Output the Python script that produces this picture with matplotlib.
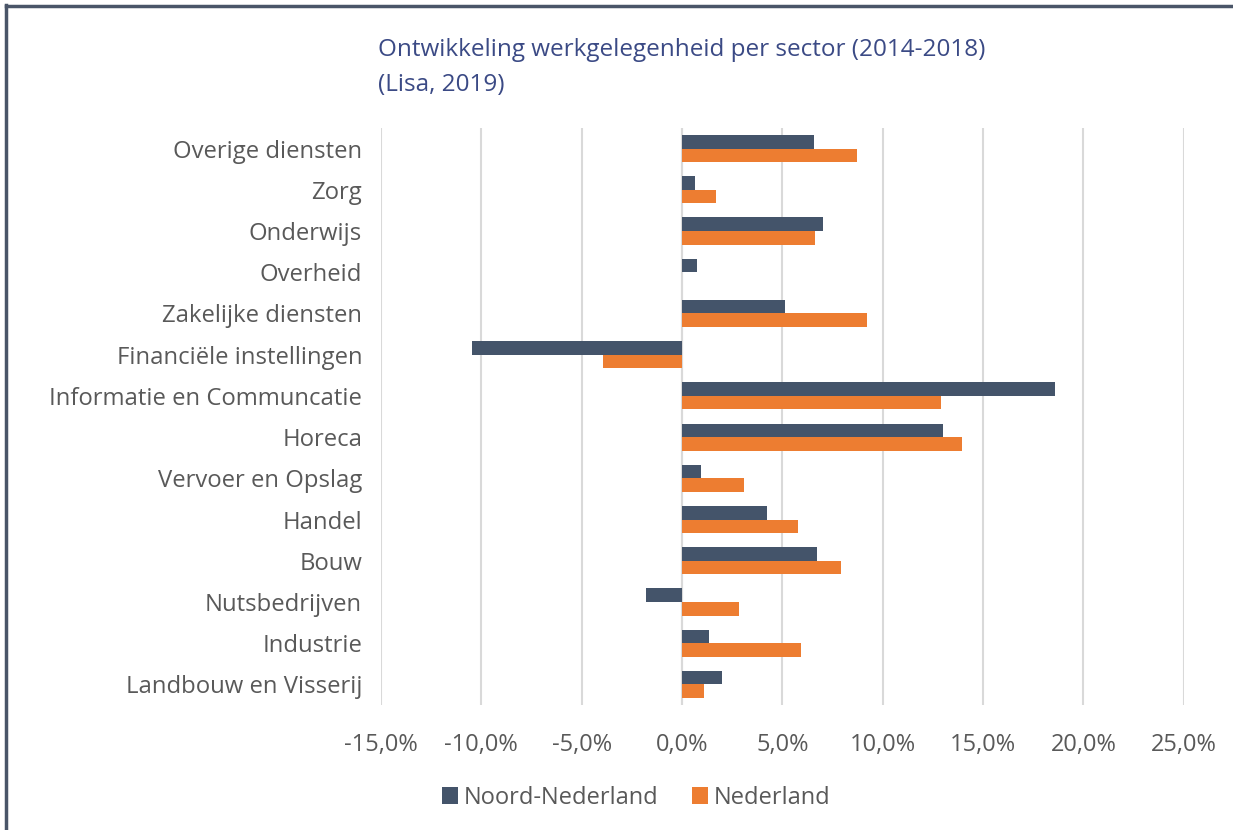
import matplotlib
matplotlib.use("Agg")
import matplotlib.pyplot as plt
from matplotlib.lines import Line2D
import numpy as np

categories = ["Overige diensten", "Zorg", "Onderwijs", "Overheid", "Zakelijke diensten",
              "Financiële instellingen", "Informatie en Communcatie", "Horeca",
              "Vervoer en Opslag", "Handel", "Bouw", "Nutsbedrijven", "Industrie",
              "Landbouw en Visserij"]
noord_nederland = [6.57, 0.67, 7.01, 0.73, 5.12, -10.46, 18.6, 12.99, 0.93, 4.23, 6.75, -1.81, 1.36, 1.97]
nederland = [8.72, 1.71, 6.65, 0.0, 9.23, -3.92, 12.93, 13.94, 3.07, 5.77, 7.91, 2.83, 5.91, 1.12]
x_ticks = [-15, -10, -5, 0, 5, 10, 15, 20, 25]

plt.rcParams['font.family'] = ['Open Sans', 'DejaVu Sans']

fig = plt.figure(figsize=(12.33, 8.30), dpi=100)
ax = fig.add_axes([0.309, 0.1506, 0.651, 0.6952])

c_nn = "#44546a"
c_nl = "#ed7d31"
text_c = "#595959"

y = np.arange(len(categories))
h = 0.33
ax.barh(y - h / 2, noord_nederland, height=h, color=c_nn, label="Noord-Nederland", zorder=3)
ax.barh(y + h / 2, nederland, height=h, color=c_nl, label="Nederland", zorder=3)

ax.set_ylim(len(categories) - 0.5, -0.5)
ax.set_xlim(-15, 25)
ax.set_xticks(x_ticks)
ax.set_xticklabels([f"{v:.1f}%".replace(".", ",") for v in x_ticks], fontsize=17, color=text_c)
ax.set_yticks(y)
ax.set_yticklabels(categories, fontsize=17.2, color=text_c)
ax.tick_params(axis='both', length=0)
ax.tick_params(axis='x', pad=20)
ax.tick_params(axis='y', pad=13.5)
ax.grid(axis='x', color="#d9d9d9", linewidth=1.5, zorder=0)
ax.axvline(0, color="#d9d9d9", linewidth=1.5, zorder=1)
for s in ax.spines.values():
    s.set_visible(False)

fig.text(0.3066, 0.940, "Ontwikkeling werkgelegenheid per sector (2014-2018)", fontsize=17.5,
         color="#3b4a85", ha="left", va="center")
fig.text(0.3066, 0.898, "(Lisa, 2019)", fontsize=17.5, color="#3b4a85", ha="left", va="center")

leg = fig.legend(loc="center", bbox_to_anchor=(0.516, 0.039), ncol=2, frameon=False,
                 fontsize=17, handlelength=0.7, handleheight=0.7, handletextpad=0.25,
                 columnspacing=1.4)
for t in leg.get_texts():
    t.set_color(text_c)

# frame lines at top and left
fig.add_artist(Line2D([0.0045, 1.0], [0.9925, 0.9925], transform=fig.transFigure,
                      color="#4a5568", linewidth=2.5))
fig.add_artist(Line2D([0.005, 0.005], [0.0, 0.9935], transform=fig.transFigure,
                      color="#4a5568", linewidth=2.5))

fig.savefig("out.png", dpi=100)
